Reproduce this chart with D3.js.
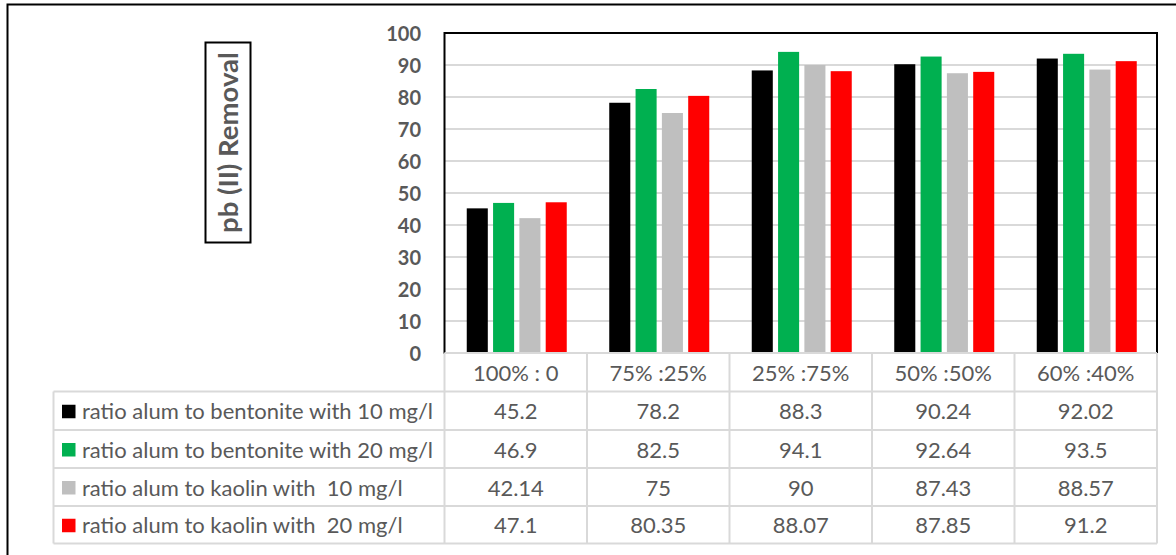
<!DOCTYPE html>
<html>
<head>
<meta charset="utf-8">
<script src="https://cdn.jsdelivr.net/npm/d3@7"></script>
<style>
  html, body { margin: 0; padding: 0; background: #fff; }
  svg { display: block; }
</style>
</head>
<body>
<svg id="chart" width="1176" height="555"></svg>
<script>
const categories = ["100% : 0", "75% :25%", "25% :75%", "50% :50%", "60% :40%"];
const seriesNames = [
  "ratio alum to bentonite with 10 mg/l",
  "ratio alum to bentonite with 20 mg/l",
  "ratio alum to kaolin with  10 mg/l",
  "ratio alum to kaolin with  20 mg/l"
];
const seriesColors = ["#000000", "#00B050", "#BFBFBF", "#FF0000"];
const bentonite10 = [45.2, 78.2, 88.3, 90.24, 92.02];
const bentonite20 = [46.9, 82.5, 94.1, 92.64, 93.5];
const kaolin10 = [42.14, 75, 90, 87.43, 88.57];
const kaolin20 = [47.1, 80.35, 88.07, 87.85, 91.2];
const valueLabels = [
  ["45.2", "78.2", "88.3", "90.24", "92.02"],
  ["46.9", "82.5", "94.1", "92.64", "93.5"],
  ["42.14", "75", "90", "87.43", "88.57"],
  ["47.1", "80.35", "88.07", "87.85", "91.2"]
];
const yTicks = [0, 10, 20, 30, 40, 50, 60, 70, 80, 90, 100];
const yTitle = "pb (II) Removal";

const series = [bentonite10, bentonite20, kaolin10, kaolin20];
const svg = d3.select("#chart");
const font = "Lato, 'Open Sans', sans-serif";
const textColor = "#595959";
const gridColor = "#D9D9D9";
const tableFontSize = 22;

// outer frame
svg.append("rect").attr("x", 7.5).attr("y", 4.5).attr("width", 1200).attr("height", 600)
  .attr("fill", "none").attr("stroke", "#000").attr("stroke-width", 2);

const plot = { left: 444.5, right: 1157, top: 33, bottom: 353 };
const x = d3.scaleBand().domain(categories).range([plot.left, plot.right]);
const y = d3.scaleLinear().domain([0, 100]).range([plot.bottom, plot.top]);
const inner = d3.scaleBand().domain(d3.range(4)).range([0, 100]).paddingInner(0.2);
const groupOffset = (x.bandwidth() - 100) / 2 + 1;

// gridlines
svg.append("g").selectAll("line").data(yTicks.filter(t => t > 0 && t < 100)).join("line")
  .attr("x1", plot.left).attr("x2", plot.right)
  .attr("y1", d => y(d)).attr("y2", d => y(d))
  .attr("stroke", gridColor).attr("stroke-width", 2);

// bars
const bars = svg.append("g");
series.forEach((vals, si) => {
  bars.selectAll(null).data(vals).join("rect")
    .attr("x", (d, i) => x(categories[i]) + groupOffset + inner(si))
    .attr("width", inner.bandwidth())
    .attr("y", d => y(d))
    .attr("height", d => y(0) - y(d))
    .attr("fill", seriesColors[si]);
});

// plot border
svg.append("rect").attr("x", plot.left).attr("y", plot.top)
  .attr("width", plot.right - plot.left).attr("height", plot.bottom - plot.top)
  .attr("fill", "none").attr("stroke", "#000").attr("stroke-width", 2);

// y axis labels
const yAxis = d3.axisLeft(y).tickValues(yTicks).tickSize(0).tickPadding(0);
const ya = svg.append("g").attr("transform", `translate(421,0)`).call(yAxis);
ya.select(".domain").remove();
ya.selectAll("text").attr("font-family", font).attr("font-size", 20).attr("font-weight", "bold")
  .attr("fill", textColor).attr("dy", "0.35em");

// y title with box
const tg = svg.append("g").attr("transform", "translate(228,142.5) rotate(-90)");
tg.append("rect").attr("x", -100).attr("y", -22.5).attr("width", 200).attr("height", 45)
  .attr("fill", "none").attr("stroke", "#000").attr("stroke-width", 2);
tg.append("text").text(yTitle).attr("text-anchor", "middle").attr("dy", "0.36em")
  .attr("font-family", font).attr("font-size", 27.5).attr("font-weight", "bold").attr("fill", textColor);

// data table
const rowTops = [353, 391.5, 430, 468, 506, 543.5];
const tableLeft = 53.5;
const tableLines = svg.append("g").attr("stroke", gridColor).attr("stroke-width", 2);
rowTops.forEach((ry, i) => {
  tableLines.append("line").attr("x1", i === 0 ? plot.left : tableLeft).attr("x2", plot.right)
    .attr("y1", ry).attr("y2", ry);
});
tableLines.append("line").attr("x1", tableLeft).attr("x2", tableLeft).attr("y1", rowTops[1]).attr("y2", rowTops[5]);
categories.forEach(c => {
  tableLines.append("line").attr("x1", x(c)).attr("x2", x(c)).attr("y1", rowTops[0]).attr("y2", rowTops[5]);
});
tableLines.append("line").attr("x1", plot.right).attr("x2", plot.right).attr("y1", rowTops[0]).attr("y2", rowTops[5]);

// header
svg.append("g").selectAll("text").data(categories).join("text")
  .attr("x", d => x(d) + x.bandwidth() / 2).attr("y", (rowTops[0] + rowTops[1]) / 2 + 1)
  .attr("text-anchor", "middle").attr("dy", "0.35em")
  .attr("font-family", font).attr("font-size", tableFontSize).attr("fill", textColor).text(d => d);

// rows
seriesNames.forEach((name, si) => {
  const cy = (rowTops[si + 1] + rowTops[si + 2]) / 2 + 1;
  svg.append("rect").attr("x", 62).attr("y", cy - 7).attr("width", 13.5).attr("height", 13.5)
    .attr("fill", seriesColors[si]);
  svg.append("text").attr("x", 82).attr("y", cy).attr("dy", "0.35em")
    .attr("font-family", font).attr("font-size", tableFontSize).attr("fill", textColor)
    .attr("xml:space", "preserve").style("white-space", "pre").text(name);
  svg.append("g").selectAll("text").data(valueLabels[si]).join("text")
    .attr("x", (d, i) => x(categories[i]) + x.bandwidth() / 2).attr("y", cy).attr("dy", "0.35em")
    .attr("text-anchor", "middle")
    .attr("font-family", font).attr("font-size", tableFontSize).attr("fill", textColor).text(d => d);
});
</script>
</body>
</html>
